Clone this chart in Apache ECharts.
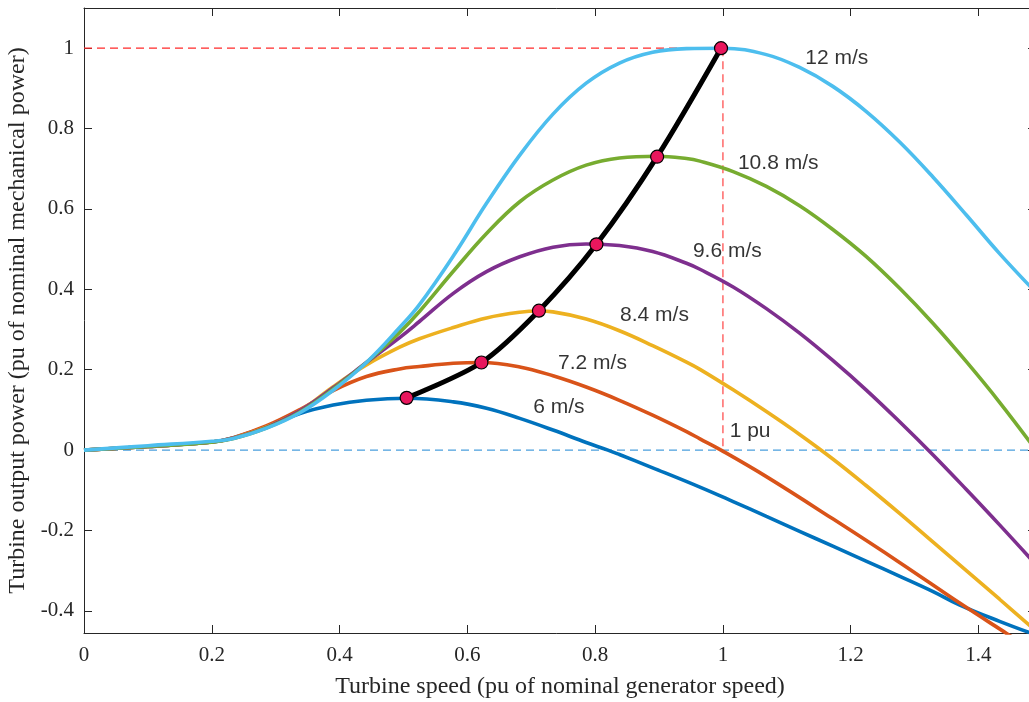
<!DOCTYPE html>
<html><head><meta charset="utf-8">
<script src="https://cdn.jsdelivr.net/npm/echarts@6/dist/echarts.min.js"></script>
<style>html,body{margin:0;padding:0;background:#fff;overflow:hidden}#c{width:1029px;height:702px}</style>
</head><body><div id="c"></div>
<script>
// ---- data ----
const xTicks = [0, 0.2, 0.4, 0.6, 0.8, 1, 1.2, 1.4];
const yTicks = [-0.4, -0.2, 0, 0.2, 0.4, 0.6, 0.8, 1];

const curve6 = [[0,0],[0.1,0.009],[0.2,0.02],[0.234,0.031],[0.285,0.058],[0.338,0.091],[0.39,0.112],[0.442,0.124],[0.506,0.129],[0.578,0.12],[0.63,0.104],[0.682,0.079],[0.734,0.05],[0.786,0.019],[0.82,0.0],[0.838,-0.011],[0.89,-0.044],[0.964,-0.092],[1.016,-0.128],[1.068,-0.165],[1.12,-0.202],[1.172,-0.239],[1.224,-0.276],[1.277,-0.314],[1.329,-0.352],[1.37,-0.385],[1.433,-0.426],[1.49,-0.46]];
const curve72 = [[0,0],[0.1,0.009],[0.2,0.02],[0.234,0.031],[0.285,0.06],[0.338,0.101],[0.39,0.148],[0.442,0.183],[0.494,0.202],[0.525,0.208],[0.578,0.216],[0.622,0.218],[0.682,0.207],[0.734,0.185],[0.786,0.157],[0.838,0.124],[0.89,0.087],[0.943,0.046],[0.964,0.028],[0.997,0.0],[1.068,-0.066],[1.172,-0.171],[1.277,-0.28],[1.37,-0.38],[1.444,-0.456],[1.49,-0.503]];
const curve84 = [[0,0],[0.1,0.009],[0.2,0.02],[0.234,0.03],[0.285,0.057],[0.338,0.098],[0.39,0.158],[0.442,0.212],[0.494,0.256],[0.525,0.277],[0.578,0.305],[0.63,0.329],[0.682,0.343],[0.712,0.346],[0.734,0.344],[0.786,0.326],[0.838,0.297],[0.89,0.26],[0.943,0.219],[0.964,0.201],[1.016,0.15],[1.068,0.096],[1.12,0.039],[1.172,-0.022],[1.224,-0.088],[1.277,-0.158],[1.329,-0.229],[1.381,-0.3],[1.433,-0.371],[1.49,-0.45]];
const curve96 = [[0,0],[0.1,0.009],[0.2,0.02],[0.234,0.03],[0.285,0.056],[0.338,0.098],[0.39,0.155],[0.442,0.218],[0.494,0.28],[0.525,0.32],[0.578,0.39],[0.63,0.444],[0.682,0.481],[0.734,0.505],[0.786,0.513],[0.838,0.509],[0.89,0.494],[0.943,0.465],[0.964,0.45],[1.016,0.406],[1.068,0.352],[1.12,0.291],[1.172,0.223],[1.224,0.15],[1.277,0.07],[1.329,-0.012],[1.381,-0.098],[1.433,-0.186],[1.49,-0.285]];
const curve108 = [[0,0],[0.1,0.009],[0.2,0.02],[0.234,0.029],[0.285,0.055],[0.338,0.095],[0.39,0.152],[0.442,0.218],[0.494,0.293],[0.525,0.345],[0.578,0.445],[0.63,0.539],[0.682,0.618],[0.734,0.672],[0.786,0.709],[0.838,0.727],[0.897,0.731],[0.943,0.7255],[0.964,0.719],[1.016,0.693],[1.068,0.656],[1.12,0.608],[1.172,0.549],[1.224,0.482],[1.277,0.402],[1.329,0.315],[1.381,0.22],[1.433,0.119],[1.49,0.0]];
const curve12 = [[0,0],[0.1,0.011],[0.2,0.022],[0.234,0.029],[0.285,0.054],[0.338,0.093],[0.39,0.149],[0.442,0.218],[0.494,0.305],[0.525,0.362],[0.578,0.483],[0.63,0.614],[0.682,0.734],[0.734,0.836],[0.786,0.913],[0.838,0.963],[0.89,0.99],[0.943,0.999],[1.0,1.0],[1.068,0.984],[1.12,0.952],[1.172,0.905],[1.224,0.843],[1.277,0.766],[1.329,0.679],[1.381,0.585],[1.433,0.489],[1.49,0.392]];

const maxPowerPoints = [[0.505,0.13],[0.622,0.218],[0.712,0.347],[0.802,0.512],[0.897,0.73],[0.997,1.0]];

const refRatedPower = [[0,1],[1,1]];
const refRatedSpeed = [[1,1],[1,0]];
const refZero = [[0,0],[1.49,0]];

const annotationTexts = ['12 m/s','10.8 m/s','9.6 m/s','8.4 m/s','7.2 m/s','6 m/s','1 pu'];
const annotationX = [1.129, 1.0235, 0.953, 0.839, 0.742, 0.703, 1.0105];
const annotationY = [0.976, 0.713, 0.494, 0.335, 0.216, 0.106, 0.047];

// ---- chart ----
const colors = ['#0072BD','#D95319','#EDB120','#7E2F8E','#77AC30','#4DBEEE'];
const curves = [curve6, curve72, curve84, curve96, curve108, curve12];
const serif = '"Liberation Serif","Times New Roman",serif';
const sans = '"Liberation Sans",Arial,Helvetica,sans-serif';
const axisCol = '#262626';

const chart = echarts.init(document.getElementById('c'), null, {renderer: 'canvas'});

const series = [];
series.push({type:'line', data: refZero, showSymbol:false, silent:true,
  lineStyle:{color:'#4A9FDD', width:1.3, type:[8,5]}, z:1});
series.push({type:'line', data: refRatedPower, showSymbol:false, silent:true,
  lineStyle:{color:'#FF2A2A', width:1.3, type:[8,5]}, z:1});
series.push({type:'line', data: refRatedSpeed, showSymbol:false, silent:true,
  lineStyle:{color:'#FF5050', width:1.3, type:[8,5]}, z:1});
curves.forEach((c, i) => {
  series.push({type:'line', data: c, smooth: 0.4, showSymbol:false, silent:true,
    lineStyle:{color: colors[i], width:3.6}, z: 2 + i});
});
series.push({type:'line', data: maxPowerPoints, smooth: 0.3, symbol:'circle', symbolSize:13,
  showSymbol:true, silent:true,
  lineStyle:{color:'#000', width:5},
  itemStyle:{color:'#E8175D', borderColor:'#000', borderWidth:1.2}, z:10});
series.push({type:'scatter', silent:true, symbolSize:0,
  itemStyle:{color:'rgba(0,0,0,0)'},
  data: annotationTexts.map((t, i) => ({name: t, value: [annotationX[i], annotationY[i]]})),
  label:{show:true, formatter:'{b}', position:'right', distance:0, color:'#000',
    fontFamily: sans, fontSize:21}, z:12});

chart.setOption({
  animation:false,
  backgroundColor:'#fff',
  grid:{left:84, top:8, width:952, height:625, containLabel:false, outerBoundsMode:'none'},
  xAxis:[{
    type:'value', min:0, max:1.49, position:'bottom',
    name:'Turbine speed (pu of nominal generator speed)', nameLocation:'middle', nameGap:42,
    nameTextStyle:{fontFamily:serif, fontSize:24, color:axisCol},
    axisLine:{show:true, onZero:false, lineStyle:{color:axisCol, width:1}},
    axisTick:{show:true, inside:true, length:8, customValues:xTicks, lineStyle:{color:axisCol}},
    axisLabel:{show:true, customValues:xTicks, margin:12, fontFamily:serif, fontSize:21, color:axisCol,
      formatter: v => String(v)},
    splitLine:{show:false}
  },{
    type:'value', min:0, max:1.49, position:'top',
    axisLine:{show:true, onZero:false, lineStyle:{color:axisCol, width:1}},
    axisTick:{show:true, inside:true, length:8, customValues:xTicks, lineStyle:{color:axisCol}},
    axisLabel:{show:false}, splitLine:{show:false}
  }],
  yAxis:[{
    type:'value', min:-0.455, max:1.1, position:'left',
    name:'Turbine output power (pu of nominal mechanical power)', nameLocation:'middle', nameGap:50,
    nameRotate:90,
    nameTextStyle:{fontFamily:serif, fontSize:24, color:axisCol},
    axisLine:{show:true, onZero:false, lineStyle:{color:axisCol, width:1}},
    axisTick:{show:true, inside:true, length:8, customValues:yTicks, lineStyle:{color:axisCol}},
    axisLabel:{show:true, customValues:yTicks, margin:10, fontFamily:serif, fontSize:21, color:axisCol,
      formatter: v => String(v)},
    splitLine:{show:false}
  },{
    type:'value', min:-0.455, max:1.1, position:'right',
    axisLine:{show:true, onZero:false, lineStyle:{color:axisCol, width:1}},
    axisTick:{show:true, inside:true, length:8, customValues:yTicks, lineStyle:{color:axisCol}},
    axisLabel:{show:false}, splitLine:{show:false}
  }],
  series: series
});
</script></body></html>
